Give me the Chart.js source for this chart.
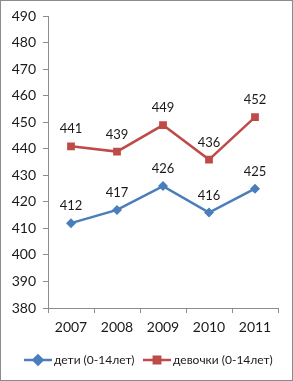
<!DOCTYPE html>
<html>
<head>
<meta charset="utf-8">
<script src="https://cdn.jsdelivr.net/npm/chart.js@4"></script>
<style>
  html, body { margin: 0; padding: 0; background: #fff; }
  .wrap {
    width: 293px;
    height: 381px;
    box-sizing: border-box;
    border: 1px solid #8c8c8c;
    position: relative;
  }
  canvas { display: block; }
</style>
</head>
<body>
<div class="wrap">
  <canvas id="lineChart" width="291" height="379"></canvas>
</div>
<script>
const years = ["2007", "2008", "2009", "2010", "2011"];
const children = [412, 417, 426, 416, 425];
const girls = [441, 439, 449, 436, 452];
const seriesNames = ["дети (0-14лет)", "девочки (0-14лет)"];

const blue = "#4a7ebb";
const red = "#be4b48";
const fontFamily = "Lato, 'Open Sans', sans-serif";

// value labels above each point
const valueLabels = {
  id: "valueLabels",
  afterDatasetsDraw(chart) {
    const ctx = chart.ctx;
    ctx.save();
    ctx.font = "13px " + fontFamily;
    ctx.fillStyle = "#1a1a1a";
    ctx.textAlign = "center";
    ctx.textBaseline = "middle";
    chart.data.datasets.forEach((ds, i) => {
      chart.getDatasetMeta(i).data.forEach((pt, j) => {
        ctx.fillText(ds.data[j], pt.x, pt.y - 17);
      });
    });
    ctx.restore();
  },
};

// excel-like legend: line with marker, then text
const lineLegend = {
  id: "lineLegend",
  afterDraw(chart) {
    const ctx = chart.ctx;
    const y = 359;
    const items = [
      { x: 23, color: blue, style: "rectRot", text: seriesNames[0] },
      { x: 142, color: red, style: "rect", text: seriesNames[1] },
    ];
    ctx.save();
    ctx.font = "12px " + fontFamily;
    ctx.textBaseline = "middle";
    items.forEach((it) => {
      ctx.strokeStyle = it.color;
      ctx.lineWidth = 2.5;
      ctx.beginPath();
      ctx.moveTo(it.x, y);
      ctx.lineTo(it.x + 28, y);
      ctx.stroke();
      Chart.helpers.drawPoint(ctx, {
        pointStyle: it.style,
        radius: 4.5,
        rotation: 0,
        borderWidth: 1,
      }, it.x + 14, y);
      ctx.fillStyle = it.color;
      ctx.fill();
      ctx.fillStyle = "#1a1a1a";
      ctx.fillText(it.text, it.x + 30, y);
    });
    ctx.restore();
  },
};

const ctx = document.getElementById("lineChart").getContext("2d");

window.lineChart = new Chart(ctx, {
  type: "line",
  data: {
    labels: years,
    datasets: [
      {
        label: seriesNames[0],
        data: children,
        borderColor: blue,
        backgroundColor: blue,
        borderWidth: 2.5,
        pointStyle: "rectRot",
        pointRadius: 5,
        pointBorderWidth: 0,
      },
      {
        label: seriesNames[1],
        data: girls,
        borderColor: red,
        backgroundColor: red,
        borderWidth: 2.5,
        pointStyle: "rect",
        pointRadius: 5.5,
        pointBorderWidth: 0,
      },
    ],
  },
  options: {
    responsive: false,
    animation: false,
    layout: {
      padding: { top: 14, right: 14, bottom: 42, left: 0 },
    },
    elements: {
      line: { tension: 0 },
    },
    scales: {
      x: {
        offset: true,
        grid: {
          offset: true,
          drawOnChartArea: false,
          drawTicks: true,
          tickLength: 5,
          color: "#8c8c8c",
        },
        border: { display: true, color: "#8c8c8c" },
        ticks: {
          color: "#1a1a1a",
          padding: 6,
          maxRotation: 0,
          font: { family: fontFamily, size: 14 },
        },
        afterFit(scale) {
          scale.height = 30;
        },
      },
      y: {
        min: 380,
        max: 490,
        grid: {
          drawOnChartArea: false,
          drawTicks: true,
          tickLength: 5,
          color: "#8c8c8c",
        },
        border: { display: true, color: "#8c8c8c" },
        ticks: {
          stepSize: 10,
          color: "#1a1a1a",
          padding: 7,
          font: { family: fontFamily, size: 14 },
        },
        afterFit(scale) {
          scale.width = 47;
        },
      },
    },
    plugins: {
      legend: { display: false },
      tooltip: { enabled: false },
    },
  },
  plugins: [valueLabels, lineLegend],
});
</script>
</body>
</html>
